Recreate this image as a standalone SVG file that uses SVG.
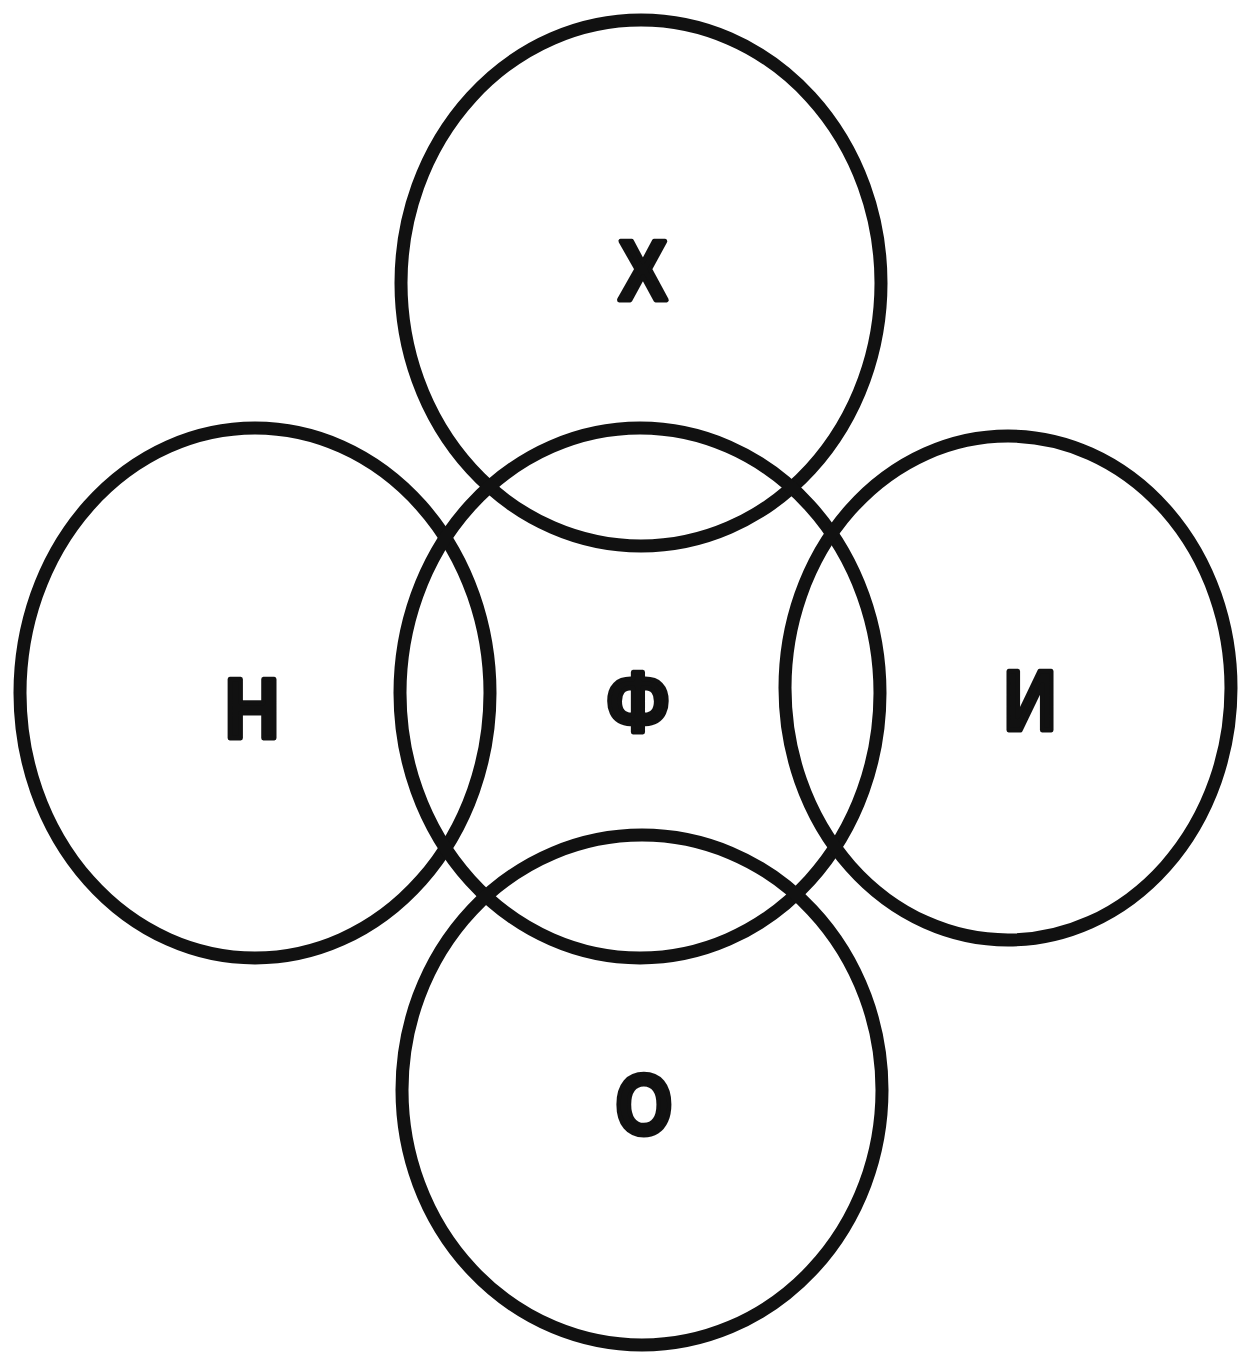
<svg xmlns="http://www.w3.org/2000/svg" width="1239" height="1363" viewBox="0 0 1239 1363">
<style>
.c{fill:none;stroke:#111;stroke-width:13}
.t{font-family:"Liberation Sans","DejaVu Sans",sans-serif;font-weight:bold;font-size:86px;fill:#111;stroke:#111;stroke-width:5;stroke-linejoin:round;text-anchor:middle}
</style>
<rect width="1239" height="1363" fill="#fff"/>
<g id="node-X"><ellipse class="c" cx="641" cy="283" rx="240" ry="263"/><text class="t" x="643" y="300" transform="translate(643 0) scale(0.85 1) translate(-643 0)">Х</text></g>
<g id="node-N"><ellipse class="c" cx="255" cy="693" rx="235" ry="265"/><text class="t" x="252" y="738" transform="translate(252 0) scale(0.88 1) translate(-252 0)">Н</text></g>
<g id="node-F"><ellipse class="c" cx="640" cy="693" rx="240" ry="265"/><text class="t" x="638" y="732" transform="translate(638 0) scale(0.85 1) translate(-638 0)">Ф</text></g>
<g id="node-I"><ellipse class="c" cx="1008" cy="688" rx="223" ry="252"/><text class="t" x="1030" y="730" transform="translate(1030 0) scale(0.85 1) translate(-1030 0)">И</text></g>
<g id="node-O"><ellipse class="c" cx="642" cy="1090" rx="240" ry="255"/><text class="t" x="644" y="1134" transform="translate(644 0) scale(0.85 1) translate(-644 0)">О</text></g>
<g id="connectors"/>
</svg>
